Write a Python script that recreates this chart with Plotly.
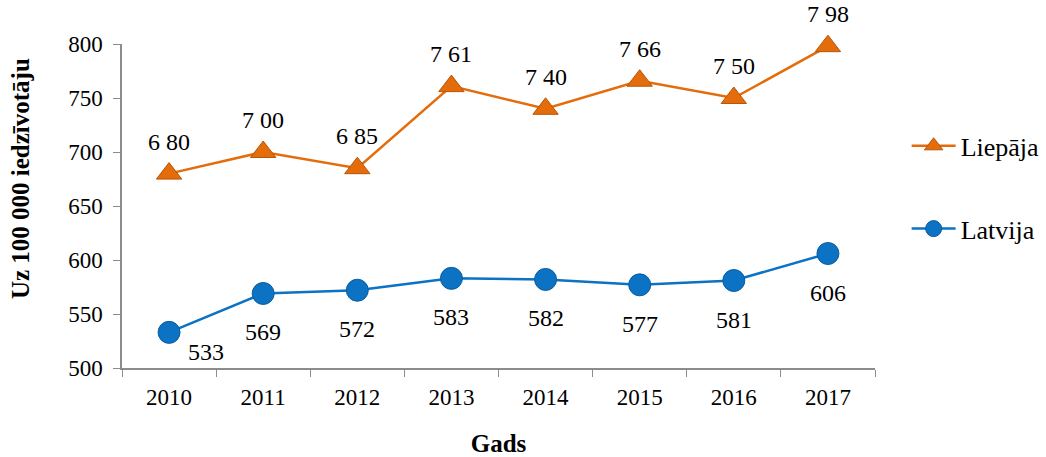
import plotly.graph_objects as go

years = ["2010", "2011", "2012", "2013", "2014", "2015", "2016", "2017"]
liepaja = [680, 700, 685, 761, 740, 766, 750, 798]
latvija = [533, 569, 572, 583, 582, 577, 581, 606]

# source labels put a space after the hundreds digit, e.g. "6 80"
liepaja_labels = [f"{v // 100} {v % 100:02d}" for v in liepaja]
latvija_labels = [str(v) for v in latvija]

FONT = "Liberation Serif"
ORANGE = "#E46C0A"
BLUE = "#0B72C4"

fig = go.Figure()

fig.add_trace(go.Scatter(
    x=years, y=liepaja,
    mode="lines+markers",
    name="Liepāja",
    legendgroup="a",
    line=dict(color=ORANGE, width=2.5),
    marker=dict(symbol="triangle-up", size=22, color=ORANGE,
                line=dict(color="#B5560A", width=1)),
    cliponaxis=False,
))

fig.add_trace(go.Scatter(
    x=years, y=latvija,
    mode="lines+markers",
    name="Latvija",
    legendgroup="b",
    line=dict(color=BLUE, width=2.5),
    marker=dict(symbol="circle", size=22, color=BLUE,
                line=dict(color="#0A5C9E", width=1)),
    cliponaxis=False,
))

# data labels: above the triangles, below the circles (first one off to the right)
# annotations use the category index, otherwise "2010" is read as a number
for i, v in enumerate(liepaja):
    fig.add_annotation(x=i, y=v, text=liepaja_labels[i], showarrow=False,
                       yshift=32, font=dict(family=FONT, size=24, color="black"))
for i, v in enumerate(latvija):
    fig.add_annotation(x=i, y=v, text=latvija_labels[i], showarrow=False,
                       xshift=37 if i == 0 else 0, yshift=-20 if i == 0 else -39,
                       font=dict(family=FONT, size=24, color="black"))

# y axis title placed by hand (it sits above the axis centre in the source)
fig.add_annotation(xref="paper", yref="paper", x=-0.1355, y=0.586,
                   text="<b>Uz 100 000 iedzīvotāju</b>", textangle=-90,
                   showarrow=False, xanchor="center", yanchor="middle",
                   font=dict(family=FONT, size=25, color="black"))

fig.update_layout(
    width=1046, height=457,
    margin=dict(l=122, r=171, t=44, b=89, autoexpand=False),
    plot_bgcolor="white",
    paper_bgcolor="white",
    font=dict(family=FONT, size=23, color="black"),
    showlegend=True,
    legend=dict(
        x=1.042, y=0.758, xanchor="left", yanchor="top",
        font=dict(family=FONT, size=26, color="black"),
        tracegroupgap=46,
        itemwidth=44,
    ),
)

fig.update_xaxes(
    type="category",
    range=[-0.5, len(years) - 0.5],
    showline=True, linecolor="#8C8C8C", linewidth=1.5,
    ticks="outside", tickson="boundaries", ticklen=7, tickcolor="#8C8C8C",
    ticklabelstandoff=8,
    showgrid=False,
    tickfont=dict(family=FONT, size=23),
    title=dict(text="<b>Gads</b>", font=dict(family=FONT, size=25), standoff=26),
)

fig.update_yaxes(
    range=[500, 800], dtick=50,
    showline=True, linecolor="#8C8C8C", linewidth=1.5,
    ticks="outside", ticklen=7, tickcolor="#8C8C8C",
    ticklabelstandoff=6,
    showgrid=False, zeroline=False,
    tickfont=dict(family=FONT, size=23),
)

# drop the default 8px body margin so the figure fills the window exactly
fig.write_html("out.html", config={"displayModeBar": False},
               post_script="document.body.style.margin = '0';")
